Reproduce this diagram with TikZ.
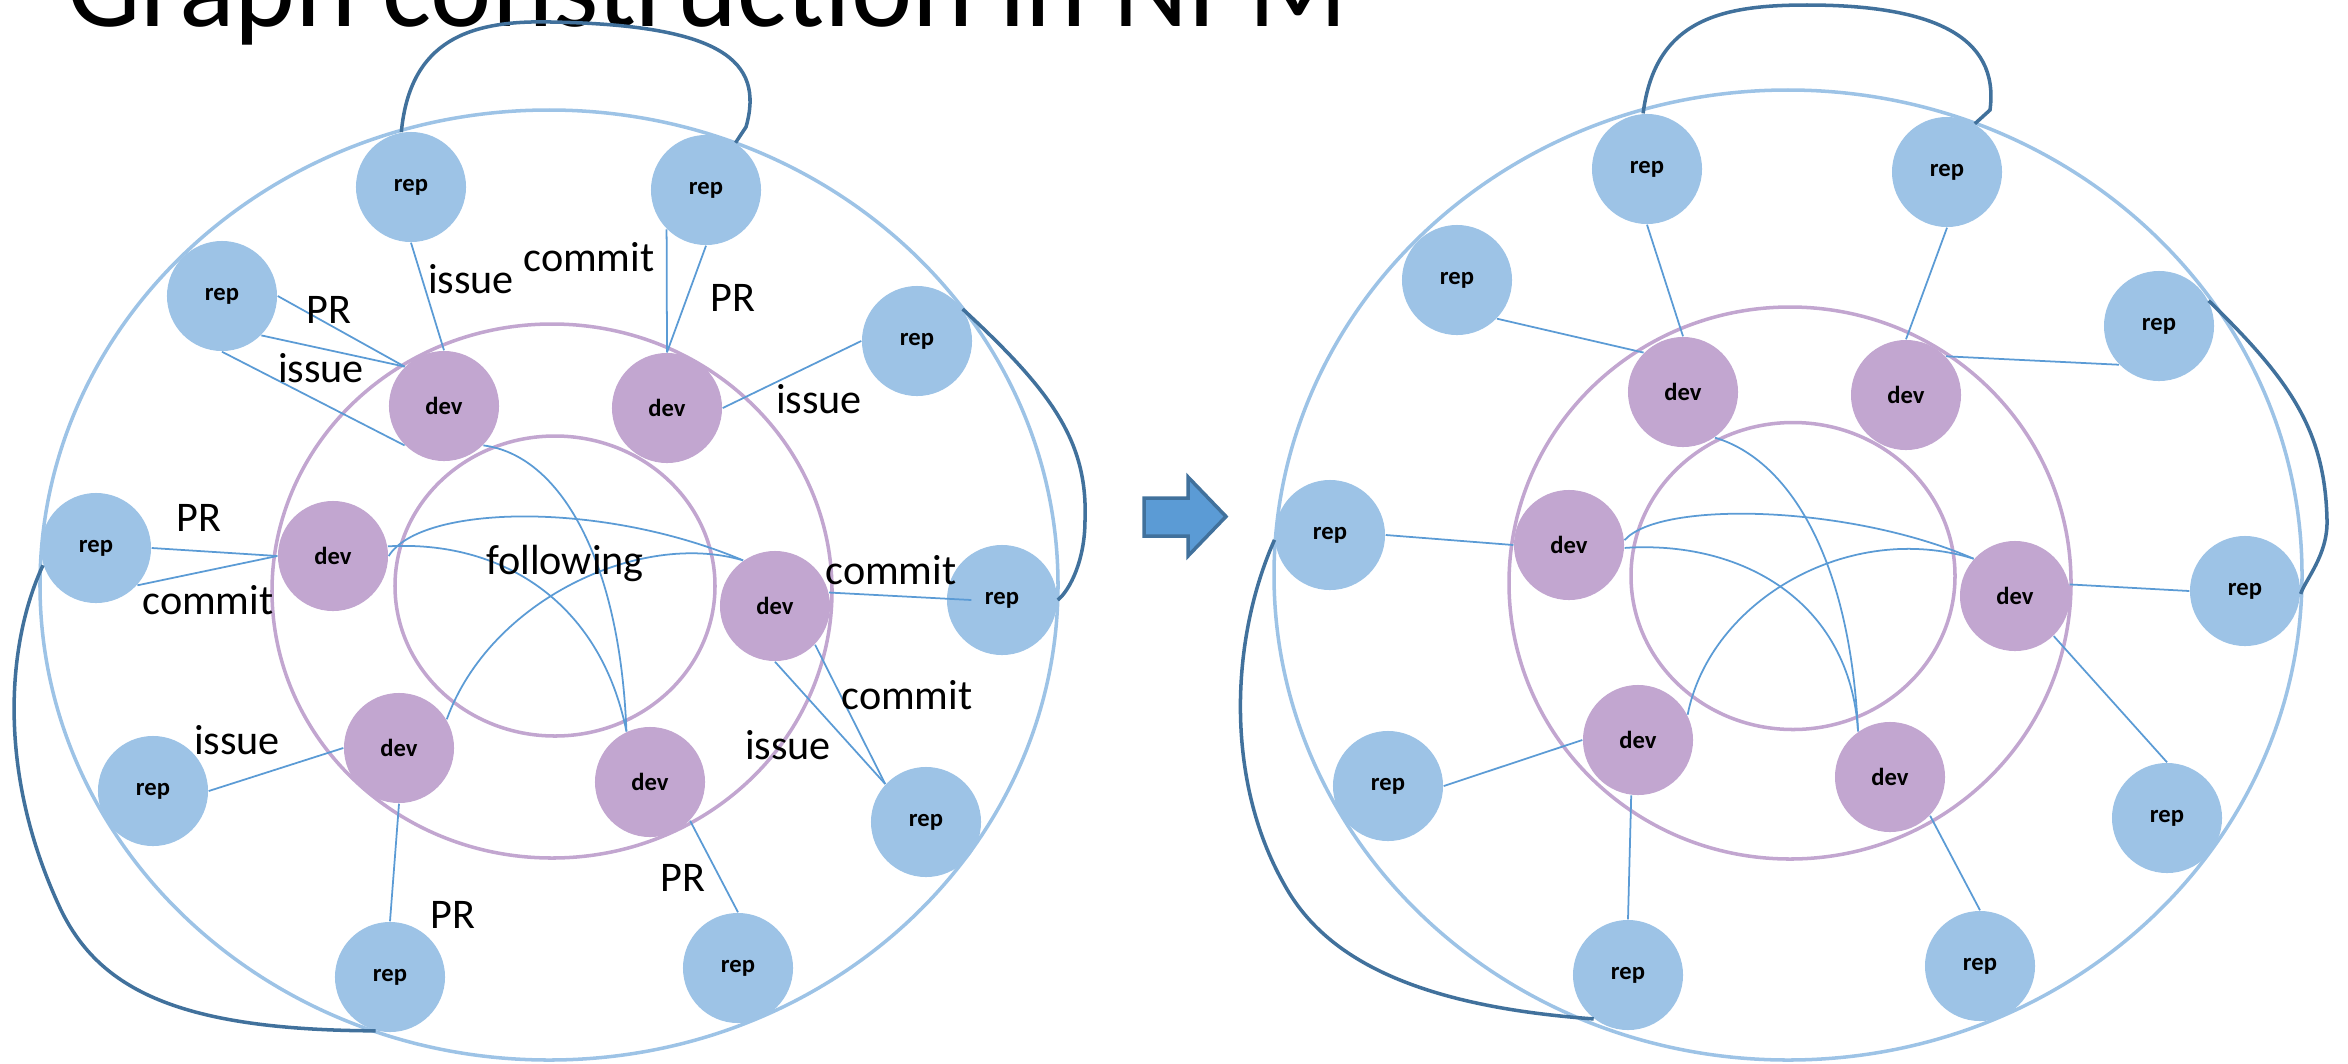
\documentclass[tikz,border=0pt]{standalone}
\usepackage{fontspec}
\setmainfont{Carlito}
\definecolor{repblue}{RGB}{157,195,230}
\definecolor{devpurple}{RGB}{194,166,208}
\definecolor{linkblue}{RGB}{91,155,213}
\definecolor{darkblue}{RGB}{65,113,156}
\begin{document}
\begin{tikzpicture}[x=0.01cm,y=-0.01cm,
  repnode/.style={circle,fill=repblue,minimum size=1.1cm,inner sep=0pt,font=\fontsize{7}{8}\selectfont\bfseries},
  devnode/.style={repnode,fill=devpurple},
  ringline/.style={line width=1pt},
  relline/.style={linkblue,line width=0.5pt},
  bondline/.style={darkblue,line width=1pt},
  lbl/.style={inner sep=0pt,font=\fontsize{12}{14}\selectfont}]
\useasboundingbox (0,0) rectangle (2348,1063);
\node[anchor=base west,inner sep=0pt,font=\fontsize{33}{33}\selectfont] (title) at (67,26) {Graph construction in NPM};
% rings
\draw[ringline,repblue] (549,585) ellipse [x radius=509,y radius=475];
\draw[ringline,devpurple] (552,591) ellipse [x radius=280,y radius=267];
\draw[ringline,devpurple] (555,586) ellipse [x radius=160,y radius=150];
\draw[ringline,repblue] (1788,575) ellipse [x radius=514,y radius=485];
\draw[ringline,devpurple] (1790,583) ellipse [x radius=281,y radius=276];
\draw[ringline,devpurple] (1793,576) ellipse [x radius=162,y radius=153.5];
% left graph
\node[repnode] (lr1) at (411,187) {rep}; \node[repnode] (lr2) at (706,190) {rep};
\node[repnode] (lr3) at (222,296) {rep}; \node[repnode] (lr4) at (917,341) {rep};
\node[repnode] (lr5) at (96,548) {rep};  \node[repnode] (lr6) at (1002,600) {rep};
\node[repnode] (lr7) at (153,791) {rep}; \node[repnode] (lr8) at (926,822) {rep};
\node[repnode] (lr9) at (390,977) {rep}; \node[repnode] (lr10) at (738,968) {rep};
\node[devnode] (ld1) at (444,406) {dev}; \node[devnode] (ld2) at (667,408) {dev};
\node[devnode] (ld3) at (333,556) {dev}; \node[devnode] (ld4) at (775,606) {dev};
\node[devnode] (ld5) at (399,748) {dev}; \node[devnode] (ld6) at (650,782) {dev};
\draw[relline] (lr1.south)--(ld1.north); \draw[relline] (lr2.south)--(ld2.north);
\draw[relline] (lr2.225)--(ld2.north);
\draw[relline] (lr3.east)--(ld1.135); \draw[relline] (lr3.-45)--(ld1.135);
\draw[relline] (lr3.south)--(ld1.225);
\draw[relline] (lr4.west)--(ld2.east);
\draw[relline] (lr5.east)--(ld3.west); \draw[relline] (lr5.-42)--(ld3.west);
\draw[relline] (ld4.14)--([xshift=0.25cm]lr6.west);
\draw[relline] (ld4.south)--(lr8.137); \draw[relline] (ld4.-44)--(lr8.137);
\draw[relline] (lr7.east)--(ld5.west);
\draw[relline] (ld5.south)--(lr9.north); \draw[relline] (ld6.-44)--(lr10.north);
\draw[relline] (ld3.east) .. controls (420,505) and (600,500) .. (ld4.125);
\draw[relline] (ld3.10) .. controls (500,540) and (600,600) .. (ld6.115);
\draw[relline] (ld1.-45) .. controls (560,455) and (620,560) .. (ld6.115);
\draw[relline] (ld5.31) .. controls (490,600) and (640,530) .. (ld4.125);
\draw[bondline] (lr1.100) .. controls (410,40) and (470,20) .. (551,22) .. controls (720,25) and (765,60) .. (746,127) -- (lr2.58);
\draw[bondline] (lr4.35) .. controls (1050,390) and (1088,440) .. (1085,520) .. controls (1085,560) and (1070,590) .. (lr6.east);
\draw[bondline] (lr5.198) .. controls (8,640) and (-5,770) .. (61,910) .. controls (100,990) and (180,1030) .. (lr9.-105);
\node[lbl] at (471,279) {issue}; \node[lbl] at (589,257) {commit}; \node[lbl] at (733,298) {PR};
\node[lbl] at (329,310) {PR}; \node[lbl] at (321,368) {issue}; \node[lbl] at (819,399) {issue};
\node[lbl] at (199,518) {PR}; \node[lbl] at (208,600) {commit}; \node[lbl] at (565,563) {following};
\node[lbl] at (891,570) {commit}; \node[lbl] at (907,695) {commit}; \node[lbl] at (788,745) {issue};
\node[lbl] at (237,740) {issue}; \node[lbl] at (453,915) {PR}; \node[lbl] at (683,878) {PR};
% arrow
\draw[fill=linkblue,draw=darkblue,line width=1pt] (1144,498)--(1188,498)--(1188,477)--(1226,516.5)--(1188,556)--(1188,536)--(1144,536)--cycle;
% right graph
\node[repnode] (rr1) at (1647,169) {rep}; \node[repnode] (rr2) at (1947,172) {rep};
\node[repnode] (rr3) at (1457,280) {rep}; \node[repnode] (rr4) at (2159,326) {rep};
\node[repnode] (rr5) at (1330,535) {rep}; \node[repnode] (rr6) at (2245,591) {rep};
\node[repnode] (rr7) at (1388,786) {rep}; \node[repnode] (rr8) at (2167,818) {rep};
\node[repnode] (rr9) at (1628,975) {rep}; \node[repnode] (rr10) at (1980,966) {rep};
\node[devnode] (rd1) at (1683,392) {dev}; \node[devnode] (rd2) at (1906,395) {dev};
\node[devnode] (rd3) at (1569,545) {dev}; \node[devnode] (rd4) at (2015,596) {dev};
\node[devnode] (rd5) at (1638,740) {dev}; \node[devnode] (rd6) at (1890,777) {dev};
\draw[relline] (rr1.south)--(rd1.north); \draw[relline] (rr2.south)--(rd2.north);
\draw[relline] (rr3.-44)--(rd1.135); \draw[relline] (rr4.224)--(rd2.44);
\draw[relline] (rr5.east)--(rd3.west); \draw[relline] (rd4.12)--(rr6.west);
\draw[relline] (rd4.-46)--(rr8.north); \draw[relline] (rr7.east)--(rd5.west);
\draw[relline] (rd5.-97)--(rr9.north); \draw[relline] (rd6.-44)--(rr10.north);
\draw[relline] (rd3.5) .. controls (1660,500) and (1850,505) .. (rd4.138);
\draw[relline] (rd3.-3) .. controls (1740,540) and (1850,600) .. (rd6.125);
\draw[relline] (rd1.-55) .. controls (1790,460) and (1850,560) .. (rd6.125);
\draw[relline] (rd5.27) .. controls (1710,600) and (1850,520) .. (rd4.138);
\draw[bondline] (rr1.94) .. controls (1655,20) and (1720,5) .. (1807,5) .. controls (1930,5) and (2000,35) .. (1990,110) -- (rr2.60);
\draw[bondline] (rr4.27) .. controls (2290,380) and (2325,430) .. (2327,520) .. controls (2328,555) and (2305,580) .. (rr6.-3);
\draw[bondline] (rr5.185) .. controls (1230,640) and (1225,780) .. (1284,884) .. controls (1320,950) and (1400,1005) .. (rr9.232);
\end{tikzpicture}
\end{document}
